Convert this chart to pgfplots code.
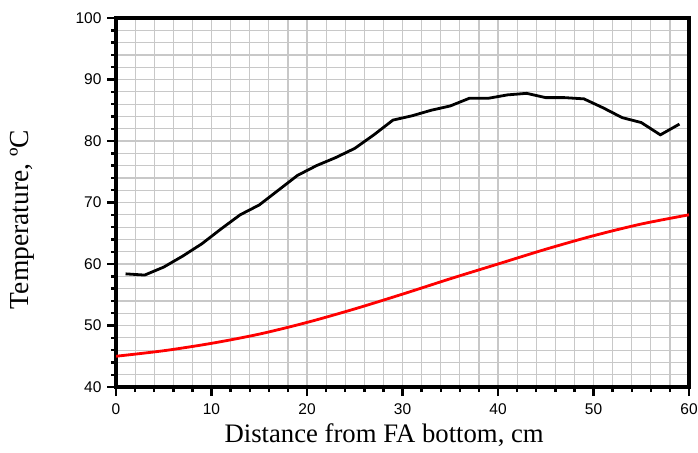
\documentclass[border=0pt]{standalone}
\usepackage{pgfplots}
\pgfplotsset{compat=1.18}
\usepackage{fontspec}
\setmainfont{Liberation Serif}
\setsansfont{Liberation Sans}
\definecolor{gridgray}{RGB}{200,200,200}
\begin{document}
\begin{tikzpicture}
\begin{axis}[
  width=573pt, height=369pt, scale only axis,
  xmin=0, xmax=60, ymin=40, ymax=100,
  xtick={0,10,...,60}, ytick={40,50,...,100},
  minor x tick num=4, minor y tick num=4,
  grid=both,
  major grid style={gridgray, line width=1.2pt},
  minor grid style={gridgray, line width=1.2pt},
  separate axis lines,
  axis line style={black, line width=3.5pt, line cap=rect},
  tick align=outside,
  xtick pos=bottom, ytick pos=left,
  major tick length=9pt, minor tick length=5pt,
  major tick style={black, line width=2.8pt},
  minor tick style={black, line width=2.4pt},
  /pgf/number format/assume math mode=true,
  ticklabel style={font=\fontsize{15.5}{16}\sffamily},
  yticklabel style={xshift=-2pt},
  xticklabel style={yshift=-4pt},
  xlabel={Distance from FA bottom, cm},
  ylabel={Temperature, ºC},
  xlabel style={font=\fontsize{26.7}{28}\selectfont, at={(axis description cs:0.468,-0.150)}, anchor=base},
  ylabel style={font=\fontsize{27.5}{28}\selectfont, at={(axis description cs:-0.164,0.454)}, anchor=center},
]
\addplot[black, line width=2.8pt] coordinates {
(1,58.4) (3,58.2) (5,59.5) (7,61.3) (9,63.3) (11,65.7) (13,68.0) (15,69.6)
(17,72.0) (19,74.4) (21,76.0) (23,77.3) (25,78.8) (27,81.0) (29,83.4) (31,84.1)
(33,85.0) (35,85.7) (37,86.95) (39,86.95) (41,87.5) (43,87.75) (45,87.05) (47,87.05)
(49,86.85) (51,85.4) (53,83.8) (55,83.0) (57,81.0) (59,82.75)
};
\addplot[red, line width=2.8pt, smooth] coordinates {
(0,45.0) (5,45.9) (10,47.1) (15,48.6) (20,50.5) (25,52.7) (30,55.1) (35,57.6)
(40,60.0) (45,62.4) (50,64.6) (55,66.5) (60,68.0)
};
\end{axis}
\pgfresetboundingbox
\useasboundingbox ([shift={(-116pt,-65pt)}]current axis.south west) rectangle ([shift={(9pt,18pt)}]current axis.north east);
\end{tikzpicture}
\end{document}
